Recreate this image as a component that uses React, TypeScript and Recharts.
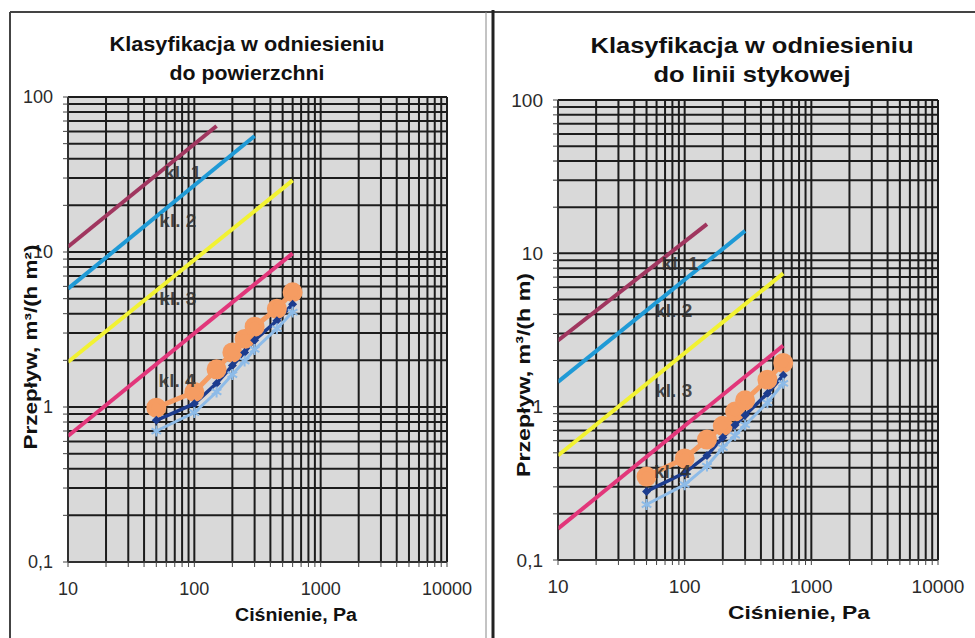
import { ComposedChart, Line, XAxis, YAxis, CartesianGrid } from "recharts";

// grid ticks on both log axes (majors get labels)
const xTicks = [
  10, 20, 30, 40, 50, 60, 70, 80, 90, 100, 200, 300, 400, 500, 600, 700, 800, 900,
  1000, 2000, 3000, 4000, 5000, 6000, 7000, 8000, 9000, 10000,
];
const yTicks = [
  0.1, 0.2, 0.3, 0.4, 0.5, 0.6, 0.7, 0.8, 0.9, 1, 2, 3, 4, 5, 6, 7, 8, 9,
  10, 20, 30, 40, 50, 60, 70, 80, 90, 100,
];
const xTickLabels = [10, 100, 1000, 10000];
const yTickLabels = [0.1, 1, 10, 100];

// class limit lines (start / end points)
const classNames = ["kl. 1", "kl. 2", "kl. 3", "kl. 4"];
const classPressure = [
  [10, 150],
  [10, 300],
  [10, 600],
  [10, 600],
];
const surfaceClassFlow = [
  [10.8, 65],
  [5.8, 56],
  [1.95, 29],
  [0.65, 9.8],
];
const jointClassFlow = [
  [2.7, 15.5],
  [1.45, 14],
  [0.48, 7.4],
  [0.16, 2.5],
];
const classColors = ["#a0365f", "#1f9ad6", "#f2f232", "#e2367a"];

// measured series
const pressure = [50, 100, 150, 200, 250, 300, 450, 600];
const surfaceOrange = [0.99, 1.25, 1.75, 2.25, 2.75, 3.3, 4.3, 5.5];
const surfaceDark = [0.82, 1.05, 1.42, 1.85, 2.25, 2.7, 3.6, 4.6];
const surfaceLight = [0.7, 0.92, 1.25, 1.62, 1.98, 2.35, 3.2, 4.1];
const jointOrange = [0.35, 0.46, 0.61, 0.75, 0.93, 1.1, 1.5, 1.93];
const jointDark = [0.28, 0.37, 0.48, 0.63, 0.76, 0.88, 1.22, 1.6];
const jointLight = [0.23, 0.31, 0.41, 0.54, 0.65, 0.76, 1.06, 1.42];

// "kl." annotation anchors (data coords)
const surfaceLabelP = [81, 74, 74, 73];
const surfaceLabelQ = [32.8, 16.1, 5.05, 1.49];
const jointLabelP = [92, 82, 82, 80];
const jointLabelQ = [8.6, 4.24, 1.27, 0.38];

const FONT = "'Liberation Sans', Arial, sans-serif";

const toPoints = (xs: number[], ys: number[]) => xs.map((p, i) => ({ p, q: ys[i] }));

const Diamond = (props: any) => {
  const { cx, cy, index } = props;
  if (cx == null || cy == null) return <g key={`d${index}`} />;
  const s = 4.5;
  return (
    <path
      key={`d${index}`}
      d={`M${cx},${cy - s}L${cx + s},${cy}L${cx},${cy + s}L${cx - s},${cy}Z`}
      fill="#1c3c8e"
    />
  );
};

const Star = (props: any) => {
  const { cx, cy, index } = props;
  if (cx == null || cy == null) return <g key={`s${index}`} />;
  const s = 5.5;
  const h = s * 0.87;
  return (
    <path
      key={`s${index}`}
      d={`M${cx},${cy - s}L${cx},${cy + s}M${cx - h},${cy - s / 2}L${cx + h},${cy + s / 2}M${cx - h},${cy + s / 2}L${cx + h},${cy - s / 2}`}
      stroke="#8dbbe8"
      strokeWidth={2}
    />
  );
};

// class names drawn as "dots" of an invisible line so they sit on top
const LabelDot = (props: any) => {
  const { cx, cy, index, payload } = props;
  if (cx == null || cy == null) return <g key={`l${index}`} />;
  return (
    <text
      key={`l${index}`}
      x={cx}
      y={cy}
      dy="0.35em"
      textAnchor="middle"
      fontFamily={FONT}
      fontWeight={700}
      fontSize={19}
      fill="#2e2e2e"
      fillOpacity={0.85}
    >
      {payload.name}
    </text>
  );
};

interface PanelProps {
  left: number;
  width: number;
  margin: { top: number; right: number; bottom: number; left: number };
  classFlow: number[][];
  orange: number[];
  dark: number[];
  light: number[];
  labelP: number[];
  labelQ: number[];
  tickFont: number;
}

function Panel({ left, width, margin, classFlow, orange, dark, light, labelP, labelQ, tickFont }: PanelProps) {
  const labels = classNames.map((name, i) => ({ name, p: labelP[i], q: labelQ[i] }));
  const tickStyle = { fontFamily: FONT, fontSize: tickFont, fill: "#2b2b2b" };
  return (
    <div style={{ position: "absolute", left, top: 0 }}>
      <ComposedChart width={width} height={638} margin={margin}>
        <CartesianGrid
          fill="#d9d9d9"
          fillOpacity={1}
          stroke="#1c1c1c"
          strokeWidth={2}
          strokeDasharray=""
        />
        <XAxis
          type="number"
          dataKey="p"
          scale="log"
          domain={[10, 10000]}
          allowDataOverflow
          ticks={xTicks}
          interval={0}
          height={40}
          tickSize={5}
          tickMargin={15}
          axisLine={{ stroke: "#444" }}
          tickLine={{ stroke: "#444" }}
          tick={tickStyle}
          tickFormatter={(v: number) => (xTickLabels.includes(v) ? String(v) : "")}
        />
        <YAxis
          type="number"
          dataKey="q"
          scale="log"
          domain={[0.1, 100]}
          allowDataOverflow
          ticks={yTicks}
          interval={0}
          width={60}
          tickSize={5}
          tickMargin={10}
          axisLine={{ stroke: "#444" }}
          tickLine={{ stroke: "#444" }}
          tick={tickStyle}
          tickFormatter={(v: number) => (yTickLabels.includes(v) ? String(v).replace(".", ",") : "")}
        />
        {classFlow.map((vals, i) => (
          <Line
            key={classNames[i]}
            data={toPoints(classPressure[i], vals)}
            dataKey="q"
            stroke={classColors[i]}
            strokeWidth={4}
            dot={false}
            activeDot={false}
            isAnimationActive={false}
          />
        ))}
        <Line
          data={toPoints(pressure, orange)}
          dataKey="q"
          stroke="#f59c62"
          strokeWidth={5}
          dot={{ r: 7.5, fill: "#f59c62", stroke: "#f59c62" }}
          activeDot={false}
          isAnimationActive={false}
        />
        <Line
          data={toPoints(pressure, dark)}
          dataKey="q"
          stroke="#1c3c8e"
          strokeWidth={3.5}
          dot={Diamond}
          activeDot={false}
          isAnimationActive={false}
        />
        <Line
          data={toPoints(pressure, light)}
          dataKey="q"
          stroke="#8dbbe8"
          strokeWidth={3}
          dot={Star}
          activeDot={false}
          isAnimationActive={false}
        />
        <Line
          data={labels}
          dataKey="q"
          stroke="none"
          dot={LabelDot}
          activeDot={false}
          isAnimationActive={false}
        />
      </ComposedChart>
    </div>
  );
}

export default function App() {
  return (
    <div
      style={{
        position: "absolute",
        left: 0,
        top: 0,
        width: 975,
        height: 638,
        background: "#fff",
        overflow: "hidden",
      }}
    >
      <Panel
        left={0}
        width={490}
        margin={{ top: 97, right: 43, bottom: 36, left: 8 }}
        classFlow={surfaceClassFlow}
        orange={surfaceOrange}
        dark={surfaceDark}
        light={surfaceLight}
        labelP={surfaceLabelP}
        labelQ={surfaceLabelQ}
        tickFont={18}
      />
      <Panel
        left={490}
        width={485}
        margin={{ top: 100, right: 37, bottom: 38, left: 8 }}
        classFlow={jointClassFlow}
        orange={jointOrange}
        dark={jointDark}
        light={jointLight}
        labelP={jointLabelP}
        labelQ={jointLabelQ}
        tickFont={19}
      />
      <svg
        width={975}
        height={638}
        style={{ position: "absolute", left: 0, top: 0, pointerEvents: "none" }}
        fontFamily={FONT}
        fontWeight={700}
        fill="#111"
      >
        {/* frame */}
        <line x1={10} y1={12} x2={975} y2={12} stroke="#444" strokeWidth={2} />
        <line x1={10} y1={12} x2={10} y2={638} stroke="#444" strokeWidth={2} />
        <line x1={486} y1={12} x2={486} y2={638} stroke="#888" strokeWidth={1} />
        <line x1={493} y1={10} x2={493} y2={638} stroke="#222" strokeWidth={3} />

        {/* left titles */}
        <text x={247} y={51} fontSize={21} textAnchor="middle" textLength={275} lengthAdjust="spacingAndGlyphs">
          Klasyfikacja w odniesieniu
        </text>
        <text x={247} y={80} fontSize={21} textAnchor="middle" textLength={155} lengthAdjust="spacingAndGlyphs">
          do powierzchni
        </text>
        <text x={296} y={621} fontSize={18} textAnchor="middle" textLength={122} lengthAdjust="spacingAndGlyphs">
          Ciśnienie, Pa
        </text>
        <text
          transform="translate(37,347) rotate(-90)"
          fontSize={18}
          textAnchor="middle"
          textLength={205}
          lengthAdjust="spacingAndGlyphs"
        >
          Przepływ, m³/(h m²)
        </text>

        {/* right titles */}
        <text x={752} y={53} fontSize={22} textAnchor="middle" textLength={323} lengthAdjust="spacingAndGlyphs">
          Klasyfikacja w odniesieniu
        </text>
        <text x={752} y={82} fontSize={22} textAnchor="middle" textLength={197} lengthAdjust="spacingAndGlyphs">
          do linii stykowej
        </text>
        <text x={799} y={619} fontSize={19} textAnchor="middle" textLength={142} lengthAdjust="spacingAndGlyphs">
          Ciśnienie, Pa
        </text>
        <text
          transform="translate(530,375) rotate(-90)"
          fontSize={19}
          textAnchor="middle"
          textLength={204}
          lengthAdjust="spacingAndGlyphs"
        >
          Przepływ, m³/(h m)
        </text>
      </svg>
    </div>
  );
}
